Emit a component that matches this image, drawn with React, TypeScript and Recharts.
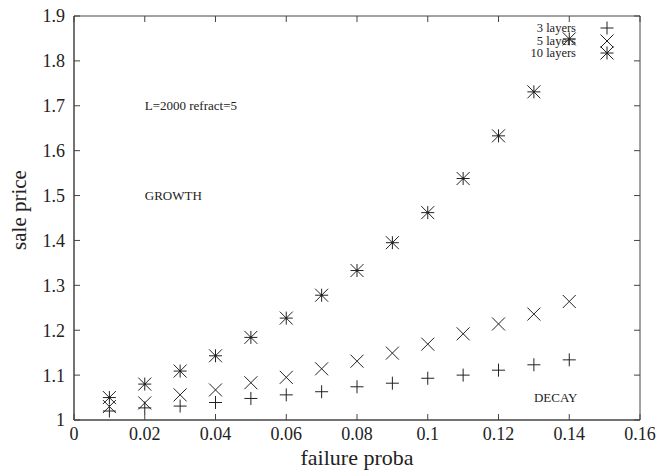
import React from 'react';
import {
  ScatterChart,
  Scatter,
  XAxis,
  YAxis,
  ReferenceDot,
} from 'recharts';

const failureProba = [0.01, 0.02, 0.03, 0.04, 0.05, 0.06, 0.07, 0.08, 0.09, 0.1, 0.11, 0.12, 0.13, 0.14];
const layers3 = [1.020, 1.027, 1.031, 1.039, 1.048, 1.056, 1.063, 1.074, 1.082, 1.093, 1.100, 1.111, 1.123, 1.134];
const layers5 = [1.030, 1.038, 1.056, 1.067, 1.083, 1.095, 1.114, 1.131, 1.149, 1.169, 1.192, 1.214, 1.236, 1.264];
const layers10 = [1.050, 1.080, 1.109, 1.143, 1.184, 1.227, 1.278, 1.333, 1.395, 1.462, 1.538, 1.633, 1.731, 1.849];
const seriesNames = ['3 layers', '5 layers', '10 layers'];

const xTicks = [0, 0.02, 0.04, 0.06, 0.08, 0.1, 0.12, 0.14, 0.16];
const yTicks = [1, 1.1, 1.2, 1.3, 1.4, 1.5, 1.6, 1.7, 1.8, 1.9];
const xDomain = [0, 0.16];
const yDomain = [1, 1.9];

const INK = '#222';
const FRAME = '#444';
const FONT = '"Liberation Serif", "DejaVu Serif", serif';
const TICK = 6;

const toPoints = (ys: number[]) => failureProba.map((x, i) => ({ x, y: ys[i] }));

// frame corners, walked in order by a scatter line
const framePoints = [
  { x: xDomain[0], y: yDomain[0] },
  { x: xDomain[1], y: yDomain[0] },
  { x: xDomain[1], y: yDomain[1] },
  { x: xDomain[0], y: yDomain[1] },
  { x: xDomain[0], y: yDomain[0] },
];
const bottomTicks = xTicks.map((x) => ({ x, y: yDomain[0] }));
const topTicks = xTicks.map((x) => ({ x, y: yDomain[1] }));
const leftTicks = yTicks.map((y) => ({ x: xDomain[0], y }));
const rightTicks = yTicks.map((y) => ({ x: xDomain[1], y }));

// gnuplot-like point glyphs
function Glyph({ kind, cx, cy }: { kind: number; cx: number; cy: number }) {
  const s = 6.5;
  const plus = `M${cx - s},${cy}H${cx + s}M${cx},${cy - s}V${cy + s}`;
  const cross = `M${cx - s},${cy - s}L${cx + s},${cy + s}M${cx - s},${cy + s}L${cx + s},${cy - s}`;
  const d = kind === 0 ? plus : kind === 1 ? cross : plus + cross;
  return (
    <g>
      <path d={d} stroke={INK} strokeWidth={1} fill="none" />
      {kind === 2 && <circle cx={cx} cy={cy} r={1.2} fill={INK} />}
    </g>
  );
}

const shapeFor = (kind: number) => (props: any) => <Glyph kind={kind} cx={props.cx} cy={props.cy} />;

// inward tick glyph: dx/dy give the direction into the plot
const tickShape = (dx: number, dy: number) => (props: any) => (
  <path
    d={`M${props.cx},${props.cy}L${props.cx + dx * TICK},${props.cy + dy * TICK}`}
    stroke={FRAME}
    strokeWidth={1}
    fill="none"
  />
);

const noShape = () => <g />;

function KeyBox() {
  return (
    <div style={{ position: 'absolute', left: 500, top: 22, fontFamily: FONT, fontSize: 12.5, color: INK }}>
      {seriesNames.map((name, i) => (
        <div key={name} style={{ display: 'flex', alignItems: 'center', height: 12.5 }}>
          <span style={{ width: 76, textAlign: 'right', lineHeight: '12.5px' }}>{name}</span>
          <svg width={16} height={14} style={{ marginLeft: 23, overflow: 'visible' }}>
            <Glyph kind={i} cx={8} cy={7} />
          </svg>
        </div>
      ))}
    </div>
  );
}

const textLabel = (value: string) => ({
  value,
  position: 'right' as const,
  offset: 0,
  style: { fontFamily: FONT, fontSize: 13, fill: INK },
});

export default function App() {
  const tickStyle = { fontFamily: FONT, fontSize: 18, fill: INK };

  return (
    <div style={{ position: 'absolute', left: 0, top: 0 }}>
      <ScatterChart width={661} height={472} margin={{ top: 16, right: 21, bottom: 0, left: 0 }}>
        <XAxis
          dataKey="x"
          type="number"
          domain={xDomain}
          ticks={xTicks}
          interval={0}
          height={52}
          tickSize={-6}
          tickMargin={13}
          tickLine={false}
          stroke={FRAME}
          tick={tickStyle}
          label={{
            value: 'failure proba',
            position: 'insideBottom',
            offset: 7,
            style: { fontFamily: FONT, fontSize: 22, fill: INK },
          }}
        />
        <YAxis
          dataKey="y"
          type="number"
          domain={yDomain}
          ticks={yTicks}
          interval={0}
          width={74}
          tickSize={-6}
          tickMargin={15}
          tickLine={false}
          stroke={FRAME}
          tick={tickStyle}
          label={{
            value: 'sale price',
            content: ({ viewBox }: any) => (
              <text
                x={19}
                y={viewBox.y + viewBox.height / 2 - 8}
                transform={`rotate(-90, 19, ${viewBox.y + viewBox.height / 2 - 8})`}
                textAnchor="middle"
                dominantBaseline="central"
                style={{ fontFamily: FONT, fontSize: 21, fill: INK }}
              >
                sale price
              </text>
            ),
          }}
        />
        {/* gnuplot style box and inward ticks on all four sides */}
        <Scatter data={framePoints} line={{ stroke: FRAME, strokeWidth: 1 }} shape={noShape} isAnimationActive={false} />
        <Scatter data={bottomTicks} shape={tickShape(0, -1)} isAnimationActive={false} />
        <Scatter data={topTicks} shape={tickShape(0, 1)} isAnimationActive={false} />
        <Scatter data={leftTicks} shape={tickShape(1, 0)} isAnimationActive={false} />
        <Scatter data={rightTicks} shape={tickShape(-1, 0)} isAnimationActive={false} />
        <ReferenceDot x={0.02} y={1.7} r={0} fill="none" stroke="none" label={textLabel('L=2000 refract=5')} />
        <ReferenceDot x={0.02} y={1.5} r={0} fill="none" stroke="none" label={textLabel('GROWTH')} />
        <ReferenceDot x={0.13} y={1.05} r={0} fill="none" stroke="none" label={textLabel('DECAY')} />
        <Scatter name={seriesNames[0]} data={toPoints(layers3)} shape={shapeFor(0)} isAnimationActive={false} />
        <Scatter name={seriesNames[1]} data={toPoints(layers5)} shape={shapeFor(1)} isAnimationActive={false} />
        <Scatter name={seriesNames[2]} data={toPoints(layers10)} shape={shapeFor(2)} isAnimationActive={false} />
      </ScatterChart>
      <KeyBox />
    </div>
  );
}
